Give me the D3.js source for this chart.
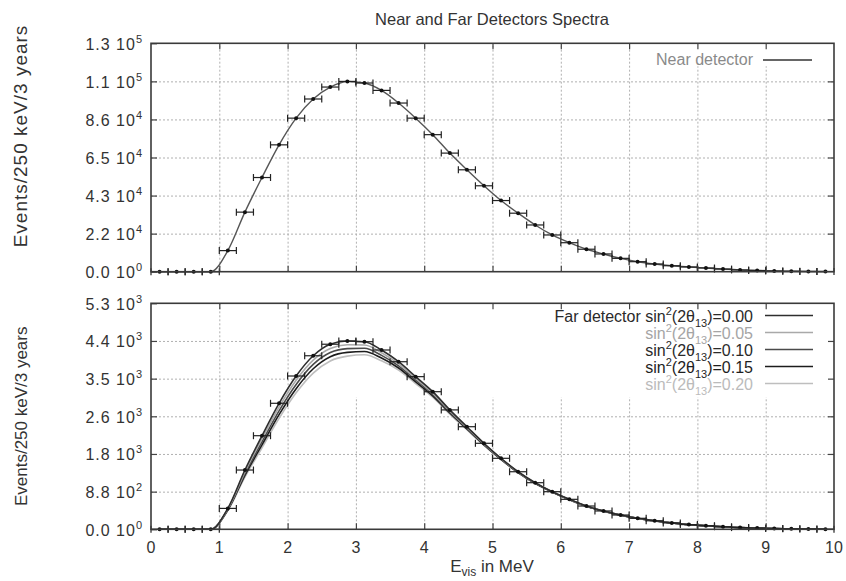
<!DOCTYPE html>
<html>
<head>
<meta charset="utf-8">
<script src="https://d3js.org/d3.v7.min.js"></script>
<style>
  body { margin: 0; background: #fff; }
  svg { display: block; font-family: "Liberation Sans", Arial, sans-serif; }
  .grid line { stroke: #b0b0b0; stroke-width: 1; stroke-dasharray: 2,2; }
  .grid path, .ticks path { display: none; }
  .ticks line { stroke: #444; stroke-width: 1.2; }
  .lbl { fill: #333; }
</style>
</head>
<body>
<svg id="chart" width="846" height="581"></svg>
<script>
// bin centres (MeV), 250 keV bins
const binCenters = [0.125, 0.375, 0.625, 0.875, 1.125, 1.375, 1.625, 1.875, 2.125, 2.375,
                    2.625, 2.875, 3.125, 3.375, 3.625, 3.875, 4.125, 4.375, 4.625, 4.875,
                    5.125, 5.375, 5.625, 5.875, 6.125, 6.375, 6.625, 6.875, 7.125, 7.375,
                    7.625, 7.875, 8.125, 8.375, 8.625, 8.875, 9.125, 9.375, 9.625, 9.875];

// near detector events / bin
const nearCounts = [0, 0, 0, 0, 12000, 33900, 53600, 72200, 87400, 98300,
                    105100, 108300, 107400, 103200, 96000, 87400, 78000, 67500, 58000, 48900,
                    40500, 33300, 26600, 20900, 16500, 12800, 10100, 7600, 5700, 4400,
                    3400, 2700, 2100, 1500, 1000, 700, 400, 250, 150, 80];

// far detector, one series per sin^2(2theta13)
const far00 = [0, 0, 0, 0, 490, 1390, 2195, 2955, 3595, 4070,
               4340, 4415, 4400, 4205, 3930, 3580, 3227, 2800, 2406, 2017,
               1665, 1350, 1093, 882, 703, 546, 430, 335, 258, 200,
               150, 110, 85, 60, 40, 28, 18, 10, 6, 3];
const far05 = [0, 0, 0, 0, 478, 1348, 2124, 2866, 3496, 3968,
               4242, 4327, 4323, 4142, 3881, 3540, 3195, 2776, 2388, 2004,
               1657, 1343, 1088, 879, 700, 544, 428, 334, 257, 199,
               150, 110, 85, 60, 40, 28, 18, 10, 6, 3];
const far10 = [0, 0, 0, 0, 466, 1307, 2052, 2778, 3397, 3867,
               4145, 4238, 4246, 4079, 3832, 3499, 3162, 2751, 2370, 1992,
               1648, 1337, 1082, 875, 698, 542, 427, 333, 257, 199,
               149, 109, 84, 60, 40, 28, 18, 10, 6, 3];
const far15 = [0, 0, 0, 0, 453, 1265, 1981, 2689, 3298, 3765,
               4047, 4150, 4169, 4016, 3783, 3459, 3130, 2727, 2352, 1979,
               1640, 1330, 1077, 872, 695, 540, 425, 332, 256, 198,
               149, 109, 84, 59, 40, 28, 18, 10, 6, 3];
const far20 = [0, 0, 0, 0, 441, 1223, 1910, 2600, 3200, 3663,
               3949, 4062, 4092, 3953, 3734, 3419, 3098, 2702, 2334, 1967,
               1632, 1323, 1071, 869, 693, 538, 424, 331, 255, 198,
               148, 109, 84, 59, 39, 27, 18, 10, 6, 3];
const farValues = ["0.00", "0.05", "0.10", "0.15", "0.20"];
const farColors = ["#2e2e2e", "#a9a9a9", "#4a4a4a", "#1c1c1c", "#bebebe"];
const farText   = ["#2a2a2a", "#a5a5a5", "#2a2a2a", "#1e1e1e", "#bbbbbb"];

// tick labels
const xTicks = [0, 1, 2, 3, 4, 5, 6, 7, 8, 9, 10];
const nearTicks = [0, 21667, 43333, 65000, 86667, 108333, 130000];
const nearMant  = ["0.0", "2.2", "4.3", "6.5", "8.6", "1.1", "1.3"];
const nearExp   = ["0", "4", "4", "4", "4", "5", "5"];
const farTicks  = [0, 883, 1767, 2650, 3533, 4417, 5300];
const farMant   = ["0.0", "8.8", "1.8", "2.6", "3.5", "4.4", "5.3"];
const farExp    = ["0", "2", "3", "3", "3", "3", "3"];

const BIN_HALF = 0.125;
const X0 = 151, X1 = 834;
const svg = d3.select("#chart");
const x = d3.scaleLinear().domain([0, 10]).range([X0, X1]);

const TOP = { y0: 43.3, y1: 271.7, max: 130000 };
const BOT = { y0: 303.3, y1: 529.3, max: 5300 };
const yTop = d3.scaleLinear().domain([0, TOP.max]).range([TOP.y1, TOP.y0]);
const yBot = d3.scaleLinear().domain([0, BOT.max]).range([BOT.y1, BOT.y0]);

// title
svg.append("text").attr("class", "lbl")
  .attr("x", 492).attr("y", 25).attr("text-anchor", "middle")
  .style("font-size", "16.5px").text("Near and Far Detectors Spectra");

function drawGrid(p, y, ticks) {
  const h = p.y1 - p.y0;
  svg.append("g").attr("class", "grid")
    .attr("transform", `translate(0,${p.y1})`)
    .call(d3.axisBottom(x).tickValues(xTicks.slice(1, -1)).tickSize(-h).tickFormat(""));
  svg.append("g").attr("class", "grid")
    .attr("transform", `translate(${X0},0)`)
    .call(d3.axisLeft(y).tickValues(ticks.slice(1, -1)).tickSize(-(X1 - X0)).tickFormat(""));
}

function drawFrame(p, y, ticks, mant, exp, showX) {
  const tv = xTicks.slice(1, -1);
  svg.append("g").attr("class", "ticks").attr("transform", `translate(0,${p.y1})`)
    .call(d3.axisBottom(x).tickValues(tv).tickSize(-6).tickFormat(""));
  svg.append("g").attr("class", "ticks").attr("transform", `translate(0,${p.y0})`)
    .call(d3.axisTop(x).tickValues(tv).tickSize(-6).tickFormat(""));
  svg.append("g").attr("class", "ticks").attr("transform", `translate(${X1},0)`)
    .call(d3.axisRight(y).tickValues(ticks.slice(1, -1)).tickSize(-6).tickFormat(""));
  const left = svg.append("g").attr("class", "ticks").attr("transform", `translate(${X0},0)`)
    .call(d3.axisLeft(y).tickValues(ticks).tickSize(-6).tickFormat(""));
  left.selectAll(".tick").each(function (d, i) {
    const t = d3.select(this).append("text").attr("class", "lbl")
      .attr("x", -8).attr("y", 6).attr("text-anchor", "end")
      .style("font-size", "16px").style("letter-spacing", "1px")
      .style("font-family", "Liberation Sans, Arial, sans-serif");
    t.append("tspan").text(mant[i] + " 10");
    t.append("tspan").attr("dy", -7).style("font-size", "11px").text(exp[i]);
  });
  svg.append("rect").attr("x", X0).attr("y", p.y0)
    .attr("width", X1 - X0).attr("height", p.y1 - p.y0)
    .attr("fill", "none").attr("stroke", "#3a3a3a").attr("stroke-width", 1.6);
  if (showX) {
    svg.append("g").selectAll("text").data(xTicks).join("text").attr("class", "lbl")
      .attr("x", d => x(d)).attr("y", 553).attr("text-anchor", "middle")
      .style("font-size", "16px").text(d => d);
  }
}

function drawPoints(y, vals) {
  const g = svg.append("g").attr("stroke", "#222").attr("stroke-width", 1.2);
  binCenters.forEach((c, i) => {
    const yy = y(vals[i]);
    const xa = x(c - BIN_HALF), xb = x(c + BIN_HALF);
    g.append("line").attr("x1", xa).attr("x2", xb).attr("y1", yy).attr("y2", yy);
    g.append("line").attr("x1", xa).attr("x2", xa).attr("y1", yy - 3.5).attr("y2", yy + 3.5);
    g.append("line").attr("x1", xb).attr("x2", xb).attr("y1", yy - 3.5).attr("y2", yy + 3.5);
    g.append("circle").attr("cx", x(c)).attr("cy", yy).attr("r", 2).attr("fill", "#111").attr("stroke", "none");
  });
}

function curve(y, vals, color, w) {
  const line = d3.line().x(d => x(d[0])).y(d => y(d[1])).curve(d3.curveMonotoneX);
  svg.append("path").datum(binCenters.map((c, i) => [c, vals[i]]))
    .attr("d", line).attr("fill", "none").attr("stroke", color).attr("stroke-width", w);
}

// ---------- top panel: near detector ----------
drawGrid(TOP, yTop, nearTicks);
svg.append("rect").attr("x", 640).attr("y", TOP.y0).attr("width", X1 - 640).attr("height", 23).attr("fill", "#fff");
curve(yTop, nearCounts, "#555", 1.4);
drawPoints(yTop, nearCounts);
svg.append("text").attr("x", 753).attr("y", 65).attr("text-anchor", "end")
  .style("font-size", "16px").style("fill", "#8a8a8a").text("Near detector");
svg.append("line").attr("x1", 763).attr("x2", 812).attr("y1", 60).attr("y2", 60)
  .attr("stroke", "#333").attr("stroke-width", 1.4);
drawFrame(TOP, yTop, nearTicks, nearMant, nearExp, false);

// ---------- bottom panel: far detector ----------
drawGrid(BOT, yBot, farTicks);
svg.append("rect").attr("x", 300).attr("y", BOT.y0).attr("width", X1 - 300).attr("height", 94).attr("fill", "#fff");
const farSeries = [far00, far05, far10, far15, far20];
[4, 3, 2, 1, 0].forEach(k => curve(yBot, farSeries[k], farColors[k], 1.6));
drawPoints(yBot, far00);

farValues.forEach((v, k) => {
  const by = 321.5 + 17 * k;
  const t = svg.append("text").attr("x", 753).attr("y", by).attr("text-anchor", "end")
    .style("font-size", "16px").style("fill", farText[k]);
  t.append("tspan").text((k === 0 ? "Far detector " : "") + "sin");
  t.append("tspan").attr("dy", -7).style("font-size", "11px").text("2");
  t.append("tspan").attr("dy", 7).text("(2\u03b8");
  t.append("tspan").attr("dy", 5).style("font-size", "11px").text("13");
  t.append("tspan").attr("dy", -5).text(")=" + v);
  svg.append("line").attr("x1", 765).attr("x2", 813).attr("y1", by - 6).attr("y2", by - 6)
    .attr("stroke", farColors[k]).attr("stroke-width", 1.6);
});
drawFrame(BOT, yBot, farTicks, farMant, farExp, true);

// axis titles
svg.append("text").attr("class", "lbl")
  .attr("transform", "translate(27,136) rotate(-90)")
  .attr("text-anchor", "middle").style("font-size", "19px").style("letter-spacing", "1px")
  .text("Events/250 keV/3 years");
svg.append("text").attr("class", "lbl")
  .attr("transform", `translate(27,${(BOT.y0 + BOT.y1) / 2}) rotate(-90)`)
  .attr("text-anchor", "middle").style("font-size", "17px")
  .text("Events/250 keV/3 years");

const xl = svg.append("text").attr("class", "lbl")
  .attr("x", 492).attr("y", 572).attr("text-anchor", "middle").style("font-size", "17px");
xl.append("tspan").text("E");
xl.append("tspan").attr("dy", 4).style("font-size", "12px").text("vis");
xl.append("tspan").attr("dy", -4).text(" in MeV");
</script>
</body>
</html>
